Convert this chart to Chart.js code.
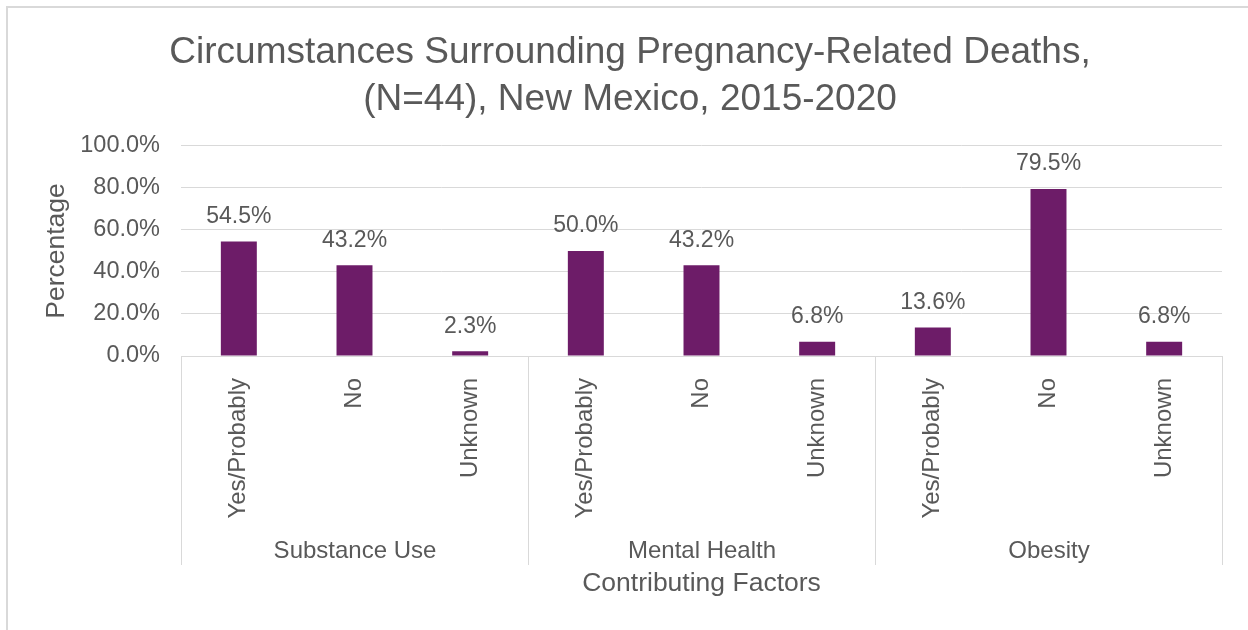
<!DOCTYPE html>
<html>
<head>
<meta charset="utf-8">
<script src="https://cdn.jsdelivr.net/npm/chart.js@4.4.0/dist/chart.umd.min.js"></script>
<style>
html,body{margin:0;padding:0;background:#fff;}
#wrap{position:relative;width:1248px;height:630px;}
</style>
</head>
<body>
<div id="wrap"><canvas id="c" width="1248" height="630"></canvas></div>
<script>
const titleLines = ["Circumstances Surrounding Pregnancy-Related Deaths,", "(N=44), New Mexico, 2015-2020"];
const groups = ["Substance Use", "Mental Health", "Obesity"];
const subLabels = ["Yes/Probably", "No", "Unknown", "Yes/Probably", "No", "Unknown", "Yes/Probably", "No", "Unknown"];
const values = [54.5, 43.2, 2.3, 50.0, 43.2, 6.8, 13.6, 79.5, 6.8];
const yTicks = [0, 20, 40, 60, 80, 100];
const xTitle = "Contributing Factors";
const yTitle = "Percentage";

const TXT = '#595959';
const GRID = '#D9D9D9';
const FONT = "'Liberation Sans', Arial, sans-serif";

const frame = {
  id: 'frame',
  beforeDraw(chart) {
    const ctx = chart.ctx;
    ctx.save();
    ctx.fillStyle = '#fff';
    ctx.fillRect(0, 0, chart.width, chart.height);
    ctx.strokeStyle = GRID;
    ctx.lineWidth = 2;
    ctx.beginPath();
    ctx.moveTo(7, chart.height + 5);
    ctx.lineTo(7, 7);
    ctx.lineTo(chart.width + 5, 7);
    ctx.stroke();
    ctx.restore();
  }
};

const groupPlugin = {
  id: 'groups',
  afterDraw(chart) {
    const ctx = chart.ctx;
    const x = chart.scales.x;
    const area = chart.chartArea;
    const per = subLabels.length / groups.length;
    const step = x.getPixelForValue(1) - x.getPixelForValue(0);
    ctx.save();
    ctx.strokeStyle = GRID;
    ctx.lineWidth = 1;
    const bounds = [];
    for (let g = 0; g <= groups.length; g++) {
      let px;
      if (g === 0) px = x.getPixelForValue(0) - step / 2;
      else px = x.getPixelForValue(g * per - 1) + step / 2;
      px = Math.round(px) + 0.5;
      bounds.push(px);
      ctx.beginPath();
      ctx.moveTo(px, area.bottom);
      ctx.lineTo(px, 565);
      ctx.stroke();
    }
    ctx.fillStyle = TXT;
    ctx.font = "24px " + FONT;
    ctx.textAlign = 'center';
    ctx.textBaseline = 'middle';
    for (let g = 0; g < groups.length; g++) {
      ctx.fillText(groups[g], (bounds[g] + bounds[g + 1]) / 2, 551);
    }
    // data labels
    const meta = chart.getDatasetMeta(0);
    ctx.font = "23px " + FONT;
    meta.data.forEach((bar, i) => {
      ctx.fillText(values[i].toFixed(1) + '%', bar.x, bar.y - 25);
    });
    ctx.restore();
  }
};

new Chart(document.getElementById('c'), {
  type: 'bar',
  data: {
    labels: subLabels,
    datasets: [{
      data: values,
      backgroundColor: '#6D1C68',
      borderWidth: 0,
      categoryPercentage: 1.0,
      barPercentage: 0.311
    }]
  },
  options: {
    responsive: false,
    animation: false,
    devicePixelRatio: 1,
    layout: { padding: { left: 38, right: 26, top: 0, bottom: 16 } },
    plugins: {
      legend: { display: false },
      tooltip: { enabled: false },
      title: {
        display: true,
        text: titleLines,
        color: TXT,
        font: { family: FONT, size: 37, weight: 'normal', lineHeight: 1.27 },
        padding: { top: 29, bottom: 23 }
      }
    },
    scales: {
      x: {
        grid: { display: false, drawTicks: false },
        border: { display: true, color: GRID, width: 1 },
        ticks: {
          color: TXT,
          font: { family: FONT, size: 24 },
          minRotation: 90,
          maxRotation: 90,
          padding: 22,
          autoSkip: false
        },
        title: {
          display: true,
          text: xTitle,
          color: TXT,
          font: { family: FONT, size: 26.5 },
          padding: { top: 0, bottom: 14 }
        },
        afterFit(scale) { scale.height = 630 - 16 - 356; }
      },
      y: {
        min: 0,
        max: 100,
        afterBuildTicks(scale) { scale.ticks = yTicks.map(v => ({ value: v })); },
        grid: { color: GRID, lineWidth: 1, drawTicks: false },
        border: { display: false },
        ticks: {
          color: TXT,
          font: { family: FONT, size: 23.5 },
          padding: 21,
          callback: v => v.toFixed(1) + '%'
        },
        title: {
          display: true,
          text: yTitle,
          color: TXT,
          font: { family: FONT, size: 26.5 },
          padding: { top: 3, bottom: 10 }
        },
        afterFit(scale) { scale.width = 181 - 38; }
      }
    }
  },
  plugins: [frame, groupPlugin]
});
</script>
</body>
</html>
